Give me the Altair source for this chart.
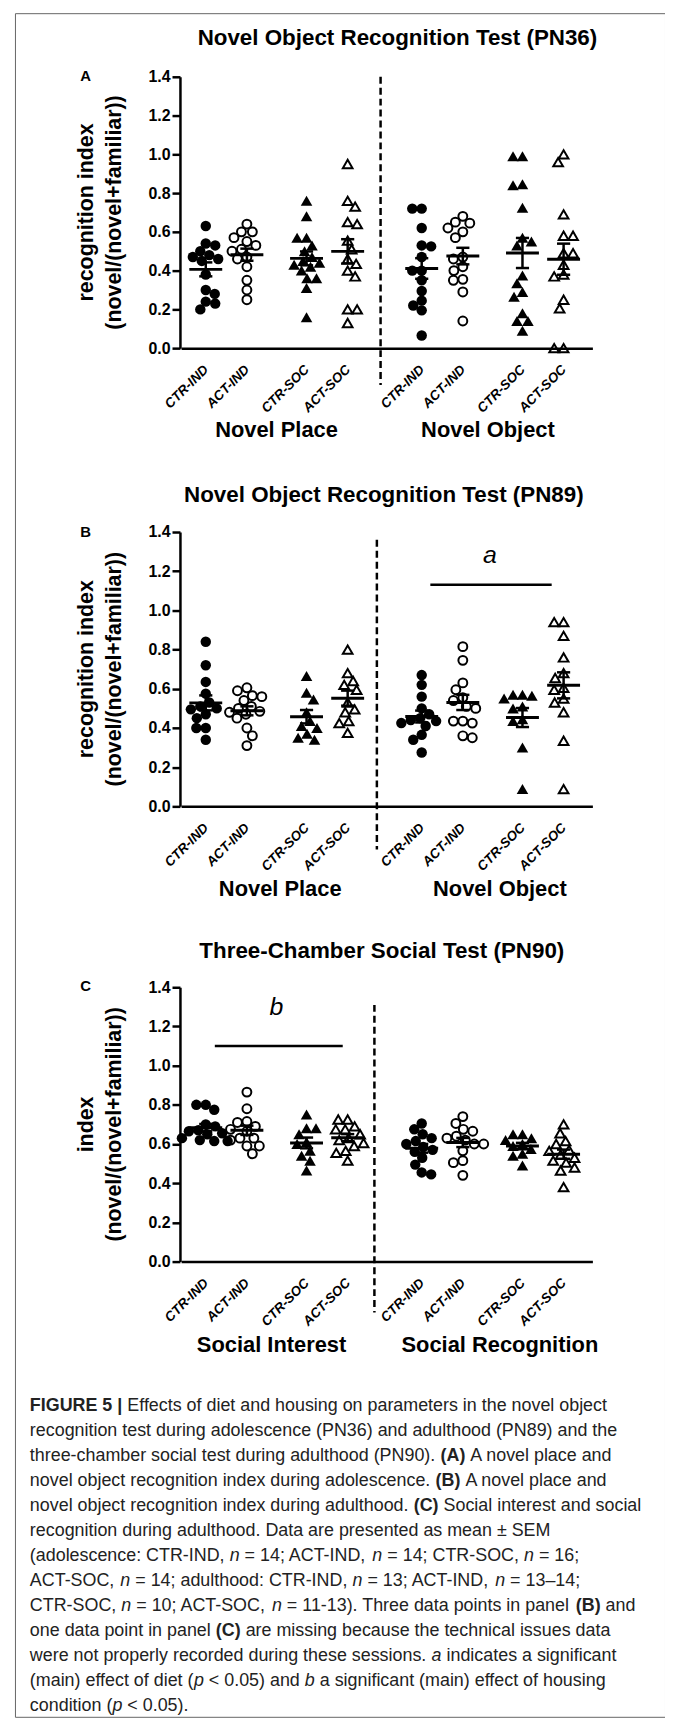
import altair as alt
import pandas as pd

# ------------------------------------------------------------------
# values
# ------------------------------------------------------------------
GROUPS = ["CTR-IND", "ACT-IND", "CTR-SOC", "ACT-SOC"]
KINDS = ["filled_circle", "open_circle", "filled_triangle", "open_triangle"]

# Panel A (PN36) - novel place
A_place_ctr_ind = [0.63, 0.54, 0.53, 0.50, 0.48, 0.47, 0.46, 0.45, 0.38, 0.30, 0.28, 0.24, 0.23, 0.20]
A_place_act_ind = [0.64, 0.60, 0.60, 0.57, 0.55, 0.53, 0.51, 0.50, 0.47, 0.46, 0.42, 0.35, 0.30, 0.25]
A_place_ctr_soc = [0.76, 0.68, 0.57, 0.57, 0.53, 0.50, 0.47, 0.45, 0.44, 0.43, 0.42, 0.40, 0.36, 0.36, 0.31, 0.16]
A_place_act_soc = [0.95, 0.76, 0.73, 0.65, 0.64, 0.555, 0.51, 0.46, 0.435, 0.40, 0.37, 0.20, 0.20, 0.13]
# Panel A - novel object
A_obj_ctr_ind = [0.72, 0.72, 0.62, 0.53, 0.525, 0.47, 0.40, 0.40, 0.35, 0.295, 0.245, 0.22, 0.195, 0.065]
A_obj_act_ind = [0.68, 0.65, 0.645, 0.62, 0.60, 0.57, 0.47, 0.46, 0.42, 0.40, 0.355, 0.35, 0.29, 0.14]
A_obj_ctr_soc = [0.99, 0.99, 0.845, 0.84, 0.725, 0.57, 0.55, 0.53, 0.375, 0.335, 0.29, 0.265, 0.18, 0.14, 0.14, 0.09]
A_obj_act_soc = [1.00, 0.96, 0.69, 0.58, 0.58, 0.49, 0.49, 0.43, 0.38, 0.37, 0.25, 0.205, 0.0, 0.0]

# Panel B (PN89) - novel place
B_place_ctr_ind = [0.84, 0.72, 0.635, 0.575, 0.53, 0.51, 0.50, 0.495, 0.47, 0.45, 0.40, 0.40, 0.34]
B_place_act_ind = [0.605, 0.59, 0.565, 0.56, 0.54, 0.51, 0.50, 0.485, 0.48, 0.47, 0.45, 0.40, 0.36, 0.31]
B_place_ctr_soc = [0.665, 0.58, 0.545, 0.48, 0.435, 0.41, 0.40, 0.37, 0.35, 0.34]
B_place_act_soc = [0.80, 0.68, 0.64, 0.62, 0.595, 0.53, 0.495, 0.48, 0.435, 0.425, 0.375]
# Panel B - novel object
B_obj_ctr_ind = [0.67, 0.62, 0.56, 0.50, 0.47, 0.45, 0.44, 0.435, 0.425, 0.41, 0.365, 0.34, 0.275]
B_obj_act_ind = [0.815, 0.745, 0.63, 0.595, 0.555, 0.54, 0.51, 0.50, 0.435, 0.435, 0.425, 0.36, 0.35]
B_obj_ctr_soc = [0.57, 0.57, 0.565, 0.55, 0.51, 0.50, 0.445, 0.435, 0.30, 0.088]
B_obj_act_soc = [0.94, 0.94, 0.87, 0.76, 0.68, 0.655, 0.605, 0.595, 0.55, 0.53, 0.48, 0.335, 0.088]

# Panel C (PN90) - social interest
C_int_ctr_ind = [0.80, 0.80, 0.775, 0.70, 0.69, 0.67, 0.665, 0.655, 0.65, 0.63, 0.62, 0.615, 0.615]
C_int_act_ind = [0.865, 0.78, 0.715, 0.71, 0.69, 0.675, 0.665, 0.63, 0.63, 0.62, 0.59, 0.59, 0.55]
C_int_ctr_soc = [0.75, 0.68, 0.68, 0.65, 0.61, 0.60, 0.565, 0.54, 0.515, 0.465]
C_int_act_soc = [0.725, 0.725, 0.69, 0.675, 0.675, 0.65, 0.63, 0.62, 0.605, 0.59, 0.565, 0.555, 0.515]
# Panel C - social recognition
C_rec_ctr_ind = [0.705, 0.675, 0.65, 0.63, 0.615, 0.60, 0.585, 0.57, 0.56, 0.53, 0.495, 0.455, 0.445]
C_rec_act_ind = [0.74, 0.705, 0.675, 0.665, 0.64, 0.63, 0.62, 0.60, 0.60, 0.565, 0.515, 0.505, 0.44]
C_rec_ctr_soc = [0.65, 0.65, 0.63, 0.62, 0.60, 0.59, 0.575, 0.55, 0.54, 0.49]
C_rec_act_soc = [0.70, 0.655, 0.615, 0.60, 0.57, 0.565, 0.545, 0.53, 0.515, 0.505, 0.48, 0.465, 0.38]

Y_TICKS = [0.0, 0.2, 0.4, 0.6, 0.8, 1.0, 1.2, 1.4]

CAPTION = [
    [("FIGURE 5 |", "b"), (" Effects of diet and housing on parameters in the novel object", "n")],
    [("recognition test during adolescence (PN36) and adulthood (PN89) and the", "n")],
    [("three-chamber social test during adulthood (PN90). ", "n"), ("(A)", "b"), (" A novel place and", "n")],
    [("novel object recognition index during adolescence. ", "n"), ("(B)", "b"), (" A novel place and", "n")],
    [("novel object recognition index during adulthood. ", "n"), ("(C)", "b"), (" Social interest and social", "n")],
    [("recognition during adulthood. Data are presented as mean \u00b1 SEM", "n")],
    [("(adolescence: CTR-IND, ", "n"), ("n", "i"), (" = 14; ACT-IND, ", "n"), ("n", "i"),
     (" = 14; CTR-SOC, ", "n"), ("n", "i"), (" = 16;", "n")],
    [("ACT-SOC, ", "n"), ("n", "i"), (" = 14; adulthood: CTR-IND, ", "n"), ("n", "i"),
     (" = 13; ACT-IND, ", "n"), ("n", "i"), (" = 13\u201314;", "n")],
    [("CTR-SOC, ", "n"), ("n", "i"), (" = 10; ACT-SOC, ", "n"), ("n", "i"),
     (" = 11-13). Three data points in panel ", "n"), ("(B)", "b"), (" and", "n")],
    [("one data point in panel ", "n"), ("(C)", "b"), (" are missing because the technical issues data", "n")],
    [("were not properly recorded during these sessions. ", "n"), ("a", "i"), (" indicates a significant", "n")],
    [("(main) effect of diet (", "n"), ("p", "i"), (" < 0.05) and ", "n"), ("b", "i"),
     (" a significant (main) effect of housing", "n")],
    [("condition (", "n"), ("p", "i"), (" < 0.05).", "n")],
]

# ------------------------------------------------------------------
# layout / style
# ------------------------------------------------------------------
W, H = 654, 1714
SLOTS = [1.0, 2.0, 3.45, 4.45, 6.25, 7.25, 8.7, 9.7]
X_DOMAIN = [0.4, 10.4]
X_RANGE = [167.15, 580.95]
PX_PER_SLOT = (X_RANGE[1] - X_RANGE[0]) / (X_DOMAIN[1] - X_DOMAIN[0])
Y_AXIS_X = 166
YTITLE_SLOTS = (-1.875, -1.20)
MEAN_HALF = 0.40
CAP_HALF = 0.16
LW = 2.5
FONT = "Liberation Sans"

PANELS = [
    dict(tag="A", title="Novel Object Recognition Test (PN36)",
         ytitle=["recognition index", "(novel/(novel+familiar))"],
         sections=["Novel Place", "Novel Object"],
         series=[A_place_ctr_ind, A_place_act_ind, A_place_ctr_soc, A_place_act_soc,
                 A_obj_ctr_ind, A_obj_act_ind, A_obj_ctr_soc, A_obj_act_soc],
         yrange=[337, 64], title_pos=(5.66, 1.60), tag_pos=(-1.92, 1.405),
         section_pos=[(2.72, -0.42), (7.86, -0.42)], divider=(5.25, 1.40, -0.19), sig=None),
    dict(tag="B", title="Novel Object Recognition Test (PN89)",
         ytitle=["recognition index", "(novel/(novel+familiar))"],
         sections=["Novel Place", "Novel Object"],
         series=[B_place_ctr_ind, B_place_act_ind, B_place_ctr_soc, B_place_act_soc,
                 B_obj_ctr_ind, B_obj_act_ind, B_obj_ctr_soc, B_obj_act_soc],
         yrange=[798, 522], title_pos=(5.33, 1.588), tag_pos=(-1.92, 1.40),
         section_pos=[(2.81, -0.42), (8.15, -0.42)], divider=(5.16, 1.36, -0.22),
         sig=dict(text="a", pos=(7.91, 1.284), x1=6.46, x2=9.41, y=1.131)),
    dict(tag="C", title="Three-Chamber Social Test (PN90)",
         ytitle=["index", "(novel/(novel+familiar))"],
         sections=["Social Interest", "Social Recognition"],
         series=[C_int_ctr_ind, C_int_act_ind, C_int_ctr_soc, C_int_act_soc,
                 C_rec_ctr_ind, C_rec_act_ind, C_rec_ctr_soc, C_rec_act_soc],
         yrange=[1256, 980], title_pos=(5.28, 1.583), tag_pos=(-1.92, 1.405),
         section_pos=[(2.60, -0.426), (8.15, -0.426)], divider=(5.10, 1.31, -0.26),
         sig=dict(text="b", pos=(2.72, 1.30), x1=1.22, x2=4.33, y=1.10)),
]

MARK_STYLE = {
    "filled_circle": dict(shape="circle", filled=True, size=110, color="black", opacity=1, strokeWidth=0),
    "open_circle": dict(shape="circle", filled=False, size=80, color="black", opacity=1, strokeWidth=2),
    "filled_triangle": dict(shape="triangle-up", filled=True, size=135, color="black", opacity=1, strokeWidth=0),
    "open_triangle": dict(shape="triangle-up", filled=False, size=95, color="black", opacity=1, strokeWidth=2),
}


def swarm(values, ppu, diam=9.5, step=0.5):
    """deterministic beeswarm: horizontal offsets (in slot units) avoiding overlap"""
    order = sorted(range(len(values)), key=lambda i: -values[i])
    placed, offs = [], [0.0] * len(values)
    for n, i in enumerate(order):
        y = values[i] * ppu
        k, found = 0, None
        while found is None:
            if k == 0:
                cands = [0.0]
            else:
                cands = [k * step, -k * step] if n % 2 == 0 else [-k * step, k * step]
            for c in cands:
                if all((c - px) ** 2 + (y - py) ** 2 >= diam ** 2 for px, py in placed):
                    found = c
                    break
            k += 1
        placed.append((found, y))
        offs[i] = found / PX_PER_SLOT
    return offs


def label_expr(slots, labels):
    expr = "''"
    for s, lab in reversed(list(zip(slots, labels))):
        expr = f"abs(datum.value - {s}) < 0.01 ? '{lab}' : {expr}"
    return expr


def build_panel(p):
    """flat list of layers for one panel (each layer gets identical explicit scales)"""
    yb, yt = p["yrange"]
    ppu = (yb - yt) / 1.4

    def xs():
        return alt.Scale(domain=X_DOMAIN, range=X_RANGE, nice=False, zero=False)

    def ys():
        return alt.Scale(domain=[0, 1.4], range=[yb, yt], nice=False, zero=False)

    xaxis = alt.Axis(orient="bottom", offset=-(H - yb), values=SLOTS,
                     labelExpr=label_expr(SLOTS, GROUPS * 2), ticks=False,
                     labelAngle=-45, labelAlign="right", labelBaseline="middle", labelPadding=19,
                     labelFont=FONT, labelFontSize=13.5, labelFontWeight="bold", labelFontStyle="italic",
                     labelColor="black", labelFlush=False, labelOverlap=False, labelBound=False,
                     labelLimit=500, domainColor="black", domainWidth=LW, grid=False, title=None)
    yaxis = alt.Axis(orient="left", offset=-Y_AXIS_X, values=Y_TICKS, format=".1f",
                     tickSize=8, tickWidth=LW, tickColor="black", domainColor="black", domainWidth=LW,
                     labelFont=FONT, labelFontSize=16, labelFontWeight="bold", labelColor="black",
                     labelPadding=2, labelFlush=False, labelOverlap=False, labelLimit=500, grid=False,
                     title=None)

    rows, stats = [], []
    for gi, vals in enumerate(p["series"]):
        slot = SLOTS[gi]
        kind = KINDS[gi % 4]
        for v, o in zip(vals, swarm(vals, ppu)):
            rows.append(dict(kind=kind, x=slot + o, v=v))
        n = len(vals)
        m = sum(vals) / n
        se = (sum((x - m) ** 2 for x in vals) / (n - 1)) ** 0.5 / n ** 0.5
        stats.append(dict(x=slot, m=m, lo=m - se, hi=m + se,
                          a=slot - MEAN_HALF, b=slot + MEAN_HALF,
                          ca=slot - CAP_HALF, cb=slot + CAP_HALF))
    pts = pd.DataFrame(rows)
    st = pd.DataFrame(stats)

    def X(f, axis=None):
        return alt.X(f, type="quantitative", scale=xs(), axis=axis)

    def Y(f, axis=None):
        return alt.Y(f, type="quantitative", scale=ys(), axis=axis)

    layers = []
    for i, kind in enumerate(KINDS):
        d = pts[pts["kind"] == kind]
        layers.append(alt.Chart(d).mark_point(**MARK_STYLE[kind]).encode(
            x=X("x", xaxis if i == 0 else None), y=Y("v", yaxis if i == 0 else None)))

    dv = pd.DataFrame([dict(x=p["divider"][0], y1=p["divider"][1], y2=p["divider"][2])])
    layers.append(alt.Chart(dv).mark_rule(color="black", strokeWidth=LW, strokeDash=[7, 4]).encode(
        x=X("x"), y=Y("y1"), y2="y2:Q"))

    layers.append(alt.Chart(st).mark_rule(color="black", strokeWidth=LW + 0.5).encode(
        x=X("a"), x2="b:Q", y=Y("m")))
    layers.append(alt.Chart(st).mark_rule(color="black", strokeWidth=LW).encode(
        x=X("x"), y=Y("lo"), y2="hi:Q"))
    layers.append(alt.Chart(st).mark_rule(color="black", strokeWidth=LW).encode(
        x=X("ca"), x2="cb:Q", y=Y("lo")))
    layers.append(alt.Chart(st).mark_rule(color="black", strokeWidth=LW).encode(
        x=X("ca"), x2="cb:Q", y=Y("hi")))

    # y-axis title (two rotated lines)
    yt_df = pd.DataFrame([dict(t=line, x=sx, y=0.7) for line, sx in zip(p["ytitle"], YTITLE_SLOTS)])
    layers.append(alt.Chart(yt_df).mark_text(font=FONT, fontSize=21.5, fontWeight="bold", color="black",
                                             align="center", baseline="middle", angle=270).encode(
        x=X("x"), y=Y("y"), text="t:N"))

    ttl = pd.DataFrame([dict(t=p["title"], x=p["title_pos"][0], y=p["title_pos"][1])])
    layers.append(alt.Chart(ttl).mark_text(font=FONT, fontSize=22.5, fontWeight="bold", color="black",
                                           align="center", baseline="middle").encode(
        x=X("x"), y=Y("y"), text="t:N"))
    tg = pd.DataFrame([dict(t=p["tag"], x=p["tag_pos"][0], y=p["tag_pos"][1])])
    layers.append(alt.Chart(tg).mark_text(font=FONT, fontSize=15, fontWeight="bold", color="black",
                                          align="center", baseline="middle").encode(
        x=X("x"), y=Y("y"), text="t:N"))
    sec = pd.DataFrame([dict(t=s, x=pos[0], y=pos[1]) for s, pos in zip(p["sections"], p["section_pos"])])
    layers.append(alt.Chart(sec).mark_text(font=FONT, fontSize=22, fontWeight="bold", color="black",
                                           align="center", baseline="middle").encode(
        x=X("x"), y=Y("y"), text="t:N"))
    if p["sig"]:
        s = p["sig"]
        sl = pd.DataFrame([dict(x1=s["x1"], x2=s["x2"], y=s["y"])])
        layers.append(alt.Chart(sl).mark_rule(color="black", strokeWidth=LW).encode(
            x=X("x1"), x2="x2:Q", y=Y("y")))
        stx = pd.DataFrame([dict(t=s["text"], x=s["pos"][0], y=s["pos"][1])])
        layers.append(alt.Chart(stx).mark_text(font=FONT, fontSize=25, fontStyle="italic", color="black",
                                               align="center", baseline="middle").encode(
            x=X("x"), y=Y("y"), text="t:N"))
    return layers


# ------------------------------------------------------------------
# caption (Arial-compatible metrics to chain the styled segments)
# ------------------------------------------------------------------
HELV = {" ": 278, "(": 333, ")": 333, ",": 278, "-": 333, ".": 278, "/": 278, ":": 278, ";": 278,
        "<": 584, "=": 584, ">": 584, "|": 260, "\u00b1": 584, "\u2013": 556,
        "A": 667, "B": 667, "C": 722, "D": 722, "E": 667, "F": 611, "G": 778, "H": 722, "I": 278,
        "J": 500, "K": 667, "L": 556, "M": 833, "N": 722, "O": 778, "P": 667, "Q": 778, "R": 722,
        "S": 667, "T": 611, "U": 722, "V": 667, "W": 944, "X": 667, "Y": 667, "Z": 611,
        "a": 556, "b": 556, "c": 500, "d": 556, "e": 556, "f": 278, "g": 556, "h": 556, "i": 222,
        "j": 222, "k": 500, "l": 222, "m": 833, "n": 556, "o": 556, "p": 556, "q": 556, "r": 333,
        "s": 500, "t": 278, "u": 556, "v": 500, "w": 722, "x": 500, "y": 500, "z": 500}
HELV_BOLD = {" ": 278, "(": 333, ")": 333, "|": 280, "A": 722, "B": 722, "C": 722, "E": 667,
             "F": 611, "G": 778, "I": 278, "R": 722, "U": 722, "5": 556}
CAP_FS = 18
CAP_UNIT = CAP_FS / 1000.0
CAP_X0 = 15
CAP_Y0 = 1406
CAP_DY = 25.2


def seg_width(s, bold):
    tab = HELV_BOLD if bold else HELV
    return sum(tab.get(ch, HELV.get(ch, 556)) for ch in s) * CAP_UNIT


cap_rows = []
for li, line in enumerate(CAPTION):
    x = CAP_X0
    for seg, style in line:
        lead = len(seg) - len(seg.lstrip(" "))
        txt = seg.strip()
        if txt:
            cap_rows.append(dict(t=txt, st=style, x=x + lead * 278 * CAP_UNIT, y=CAP_Y0 + li * CAP_DY))
        x += seg_width(seg, style == "b")
cap = pd.DataFrame(cap_rows)

cap_layers = []
for style, kw in [("n", dict()), ("b", dict(fontWeight="bold")), ("i", dict(fontStyle="italic"))]:
    cap_layers.append(alt.Chart(cap[cap["st"] == style]).mark_text(
        font=FONT, fontSize=CAP_FS, color="#222222", align="left", baseline="alphabetic", **kw
    ).encode(x=alt.X("x:Q", scale=None, axis=None), y=alt.Y("y:Q", scale=None, axis=None), text="t:N"))

all_layers = []
for p in PANELS:
    all_layers.extend(build_panel(p))
all_layers.extend(cap_layers)

chart = alt.layer(*all_layers).resolve_scale(
    x="independent", y="independent"
).properties(
    width=W, height=H, autosize=alt.AutoSizeParams(type="none"),
    padding={"left": 7, "top": 0, "right": 0, "bottom": 0},
).configure_view(stroke="#666666", strokeWidth=1)

chart.save("out.html", embed_options={"renderer": "svg", "actions": False})
